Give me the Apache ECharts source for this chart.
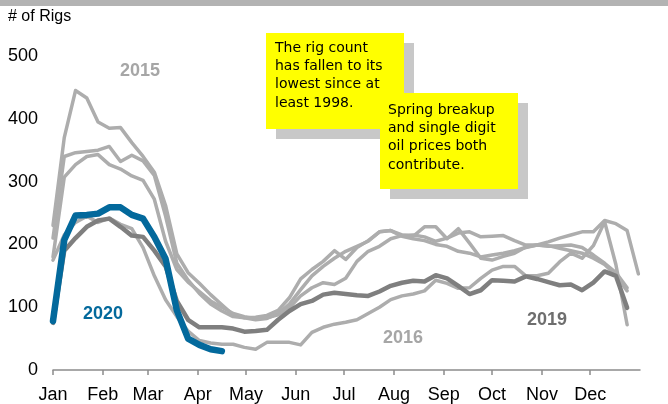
<!DOCTYPE html>
<html>
<head>
<meta charset="utf-8">
<script src="https://cdn.jsdelivr.net/npm/echarts@6/dist/echarts.min.js"></script>
<style>
  html, body { margin: 0; padding: 0; background: #fff; }
  #chart { width: 668px; height: 404px; }
</style>
</head>
<body>
<div id="chart"></div>
<script>
// Weekly Canadian rig counts by year; each point is one weekly report.
// Report day = day of the year the week starts (Jan 1 = 0).
const reportDays = [0, 7, 14, 21, 28, 35, 42, 49, 56, 63, 70, 77, 84, 91, 98, 105, 112, 119, 126,
  133, 140, 147, 154, 161, 168, 175, 182, 189, 196, 203, 210, 217, 224, 231, 238, 245, 252, 259,
  266, 273, 280, 287, 294, 301, 308, 315, 322, 329, 336, 343, 350, 357, 364];

const monthNames = ['Jan', 'Feb', 'Mar', 'Apr', 'May', 'Jun', 'Jul', 'Aug', 'Sep', 'Oct', 'Nov', 'Dec'];
const monthStartDays = [0, 31, 59, 90, 120, 151, 181, 212, 243, 273, 304, 334];
const yTicks = [0, 100, 200, 300, 400, 500];

const rigs2015 = [230, 370, 445, 433, 395, 385, 386, 362, 340, 315, 262, 185, 155, 138, 120, 104, 88, 83,
  84, 87, 95, 115, 145, 160, 173, 190, 176, 195, 206, 220, 222, 215, 213, 228, 228, 209, 225, 202,
  178, 175, 181, 186, 196, 199, 204, 210, 215, 220, 220, 238, 233, 222, 153];
const rigs2016 = [175, 215, 235, 245, 235, 242, 232, 225, 195, 150, 112, 85, 62, 47, 43, 41, 41, 36,
  33, 44, 44, 44, 40, 60, 68, 73, 76, 80, 90, 100, 112, 118, 121, 126, 143, 138, 130, 131, 146, 159,
  165, 165, 150, 150, 154, 172, 186, 178, 198, 236, 168, 72];
const rigs2017 = [210, 340, 346, 348, 350, 356, 332, 342, 333, 310, 245, 170, 143, 122, 105, 94, 85, 83,
  80, 82, 90, 105, 128, 150, 165, 178, 189, 197, 205, 220, 222, 213, 209, 206, 200, 197, 189, 186,
  180, 183, 186, 190, 195, 199, 197, 198, 199, 195, 183, 170, 155, 131];
const rigs2018 = [180, 307, 327, 340, 343, 327, 320, 309, 302, 272, 205, 160, 140, 125, 110, 100, 90, 85,
  82, 83, 88, 99, 118, 131, 139, 136, 146, 173, 189, 197, 209, 214, 215, 212, 205, 210, 218, 220,
  212, 213, 214, 206, 199, 199, 198, 194, 190, 186, 178, 168, 151, 126];
const rigs2019 = [75, 190, 210, 228, 238, 241, 228, 214, 212, 190, 165, 110, 80, 68, 68, 68, 66, 61,
  62, 64, 80, 94, 105, 110, 120, 123, 121, 119, 118, 125, 134, 139, 142, 141, 151, 146, 134, 121,
  127, 143, 142, 141, 149, 145, 140, 135, 136, 127, 139, 157, 150, 99];
const rigs2020 = [78, 207, 246, 247, 249, 259, 259, 247, 241, 212, 177, 95, 50, 40, 33, 30];

const LIGHT = '#adadad';
const DARK = '#7f7f7f';
const BLUE = '#03699c';

function pairs(values) {
  return values.map((v, i) => [reportDays[i], v]);
}

function yearLine(name, values, color, width, z) {
  return {
    name: name,
    type: 'line',
    data: pairs(values),
    symbol: 'none',
    smooth: false,
    z: z,
    lineStyle: { color: color, width: width, cap: 'round', join: 'round' },
    emphasis: { disabled: true }
  };
}

const FONT = 'Liberation Sans, Arial, sans-serif';
const NOTE_FONT = 'DejaVu Sans, sans-serif';

function noteBox(x, y, w, h, lines, textX, textY) {
  return {
    type: 'group',
    children: [
      { type: 'rect', shape: { x: x + 10, y: y + 10, width: w, height: h }, style: { fill: '#c8c8c8' } },
      { type: 'rect', shape: { x: x, y: y, width: w, height: h }, style: { fill: '#ffff00' } },
      {
        type: 'text', x: textX, y: textY,
        style: {
          text: lines.join('\n'), fill: '#000', font: '14px ' + NOTE_FONT,
          lineHeight: 18.3, verticalAlign: 'top', align: 'left'
        }
      }
    ]
  };
}

function yearTag(text, cx, cy, color) {
  return {
    type: 'text', x: cx, y: cy,
    style: {
      text: text, fill: color, font: 'bold 18px ' + FONT,
      align: 'center', verticalAlign: 'middle'
    }
  };
}

const chart = echarts.init(document.getElementById('chart'), null, { renderer: 'canvas' });

chart.setOption({
  animation: false,
  backgroundColor: '#ffffff',
  grid: { left: 53, right: 28, top: 56, bottom: 31, containLabel: false },
  xAxis: {
    type: 'value',
    min: 0,
    max: 365,
    splitLine: { show: false },
    axisLine: { show: true, lineStyle: { color: '#8c8c8c', width: 1.5 } },
    axisTick: { show: true, length: 5, customValues: monthStartDays, lineStyle: { color: '#8c8c8c', width: 1.5 } },
    axisLabel: {
      customValues: monthStartDays,
      formatter: v => monthNames[monthStartDays.indexOf(v)] || '',
      color: '#000', fontSize: 18, fontFamily: FONT, margin: 16
    }
  },
  yAxis: {
    type: 'value',
    min: 0,
    max: 500,
    interval: 100,
    splitLine: { show: false },
    axisLine: { show: false },
    axisTick: { show: false },
    axisLabel: {
      customValues: yTicks,
      color: '#000', fontSize: 18, fontFamily: FONT, margin: 15
    }
  },
  series: [
    yearLine('2015', rigs2015, LIGHT, 3.5, 2),
    yearLine('2016', rigs2016, LIGHT, 3.5, 2),
    yearLine('2017', rigs2017, LIGHT, 3.5, 2),
    yearLine('2018', rigs2018, LIGHT, 3.5, 2),
    yearLine('2019', rigs2019, DARK, 4.5, 3),
    yearLine('2020', rigs2020, BLUE, 6.5, 4)
  ],
  graphic: [
    { type: 'rect', shape: { x: 0, y: 0, width: 668, height: 6 }, style: { fill: '#b3b3b3' } },
    {
      type: 'text', x: 8, y: 17,
      style: { text: '# of Rigs', fill: '#000', font: '16px ' + FONT, verticalAlign: 'middle' }
    },
    yearTag('2015', 140, 71, '#a6a6a6'),
    yearTag('2020', 103, 314, BLUE),
    yearTag('2016', 403, 338, '#a6a6a6'),
    yearTag('2019', 547, 320, '#6e6e6e'),
    noteBox(266, 33, 138, 96, ['The rig count', 'has fallen to its', 'lowest since at', 'least 1998.'], 275, 39),
    noteBox(380, 93, 138, 96, ['Spring breakup', 'and single digit', 'oil prices both', 'contribute.'], 388, 101)
  ]
});
</script>
</body>
</html>
